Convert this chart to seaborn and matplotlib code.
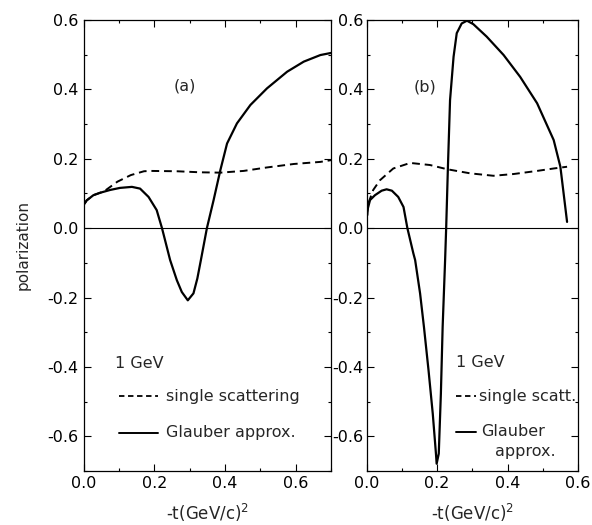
import numpy as np
import pandas as pd
import matplotlib
matplotlib.use("Agg")
import matplotlib.pyplot as plt
from matplotlib.ticker import MultipleLocator
import seaborn as sns

# ---- data ----
# panel (a)
a_glauber_t = [0.0, 0.0, 0.009, 0.028, 0.047, 0.075, 0.103, 0.137, 0.16, 0.184, 0.207,
               0.222, 0.245, 0.264, 0.278, 0.295, 0.311, 0.322, 0.332, 0.349, 0.368,
               0.387, 0.406, 0.434, 0.472, 0.519, 0.576, 0.623, 0.670, 0.70]
a_glauber_p = [0.0, 0.066, 0.08, 0.095, 0.102, 0.11, 0.116, 0.119, 0.114, 0.09, 0.052,
               0.0, -0.092, -0.15, -0.184, -0.208, -0.188, -0.145, -0.092, 0.0, 0.081,
               0.167, 0.244, 0.302, 0.355, 0.403, 0.451, 0.48, 0.499, 0.505]
a_single_t = [0.0, 0.0, 0.009, 0.028, 0.047, 0.058, 0.096, 0.134, 0.171, 0.188, 0.264,
              0.33, 0.387, 0.453, 0.519, 0.595, 0.67, 0.70]
a_single_p = [0.0, 0.066, 0.08, 0.095, 0.102, 0.106, 0.134, 0.153, 0.164, 0.165, 0.164,
              0.161, 0.16, 0.165, 0.175, 0.185, 0.191, 0.196]

# panel (b)
b_glauber_t = [0.0, 0.0, 0.01, 0.024, 0.043, 0.057, 0.072, 0.09, 0.105, 0.116, 0.133,
               0.138, 0.152, 0.163, 0.176, 0.188, 0.197, 0.199, 0.205, 0.211, 0.216,
               0.223, 0.226, 0.231, 0.237, 0.247, 0.256, 0.27, 0.285, 0.303, 0.341,
               0.389, 0.436, 0.484, 0.531, 0.55, 0.569]
b_glauber_p = [0.0, 0.042, 0.081, 0.095, 0.108, 0.112, 0.108, 0.09, 0.061, 0.0, -0.073,
               -0.092, -0.188, -0.285, -0.41, -0.535, -0.65, -0.679, -0.65, -0.477, -0.285,
               -0.092, 0.0, 0.177, 0.369, 0.494, 0.562, 0.59, 0.598, 0.588, 0.552,
               0.499, 0.436, 0.36, 0.254, 0.177, 0.018]
b_single_t = [0.0, 0.005, 0.019, 0.038, 0.076, 0.124, 0.18, 0.228, 0.294, 0.36, 0.417,
              0.484, 0.531, 0.569]
b_single_p = [0.0, 0.071, 0.11, 0.138, 0.172, 0.188, 0.182, 0.17, 0.158, 0.151, 0.156,
              0.165, 0.172, 0.177]

y_ticks = [-0.6, -0.4, -0.2, 0.0, 0.2, 0.4, 0.6]
x_ticks_a = [0.0, 0.2, 0.4, 0.6]
x_ticks_b = [0.0, 0.2, 0.4, 0.6]

sns.set_theme(style="ticks")
plt.rcParams["font.family"] = ["DejaVu Sans"]
plt.rcParams["axes.unicode_minus"] = False

fig = plt.figure(figsize=(5.92, 5.25), dpi=100)
ax_a = fig.add_axes([83.5 / 592, 1 - 471 / 525, (331 - 83.5) / 592, (471 - 20) / 525])
ax_b = fig.add_axes([366.5 / 592, 1 - 471 / 525, (578 - 366.5) / 592, (471 - 20) / 525])

def draw(ax, gt, gp, st, sp, xmax, xt):
    dfg = pd.DataFrame({"t": gt, "p": gp})
    dfs = pd.DataFrame({"t": st, "p": sp})
    sns.lineplot(data=dfg, x="t", y="p", ax=ax, color="black", lw=1.6, sort=False,
                 estimator=None)
    sns.lineplot(data=dfs, x="t", y="p", ax=ax, color="black", lw=1.4, sort=False,
                 estimator=None, dashes=False, linestyle=(0, (4, 2.5)))
    ax.axhline(0, color="black", lw=0.8)
    ax.set_xlim(0, xmax)
    ax.set_ylim(-0.7, 0.6)
    ax.set_xticks(xt)
    ax.set_xticklabels([f"{v:.1f}" for v in xt])
    ax.set_yticks(y_ticks)
    ax.set_yticklabels([f"{v:.1f}" for v in y_ticks])
    ax.xaxis.set_minor_locator(MultipleLocator(0.1))
    ax.yaxis.set_minor_locator(MultipleLocator(0.1))
    ax.tick_params(which="both", direction="in", top=True, right=True,
                   color="black", width=0.8, labelsize=11.5, labelcolor="black")
    ax.tick_params(which="major", length=5)
    ax.tick_params(which="minor", length=2.5)
    for s in ax.spines.values():
        s.set_color("black")
        s.set_linewidth(0.9)
    ax.set_xlabel("-t(GeV/c)$^2$", fontsize=12, labelpad=8)
    ax.set_ylabel("")

draw(ax_a, a_glauber_t, a_glauber_p, a_single_t, a_single_p, 0.70, x_ticks_a)
draw(ax_b, b_glauber_t, b_glauber_p, b_single_t, b_single_p, 0.60, x_ticks_b)
ax_a.tick_params(axis="y", pad=4)
ax_b.tick_params(axis="y", pad=2)
ax_a.set_ylabel("polarization", fontsize=11, labelpad=12)

fs = 11.5
# panel (a) annotations
ax_a.text(0.286, 0.41, "(a)", fontsize=fs, ha="center", va="center")
ax_a.text(0.088, -0.39, "1 GeV", fontsize=fs, ha="left", va="center")
ax_a.plot([0.10, 0.21], [-0.485, -0.485], color="black", lw=1.3, linestyle=(0, (3, 2)))
ax_a.text(0.233, -0.485, "single scattering", fontsize=fs, ha="left", va="center")
ax_a.plot([0.10, 0.21], [-0.59, -0.59], color="black", lw=1.4)
ax_a.text(0.233, -0.59, "Glauber approx.", fontsize=fs, ha="left", va="center")

# panel (b) annotations
ax_b.text(0.165, 0.407, "(b)", fontsize=fs, ha="center", va="center")
ax_b.text(0.255, -0.386, "1 GeV", fontsize=fs, ha="left", va="center")
ax_b.plot([0.255, 0.31], [-0.485, -0.485], color="black", lw=1.3, linestyle=(0, (3, 2)))
ax_b.text(0.32, -0.485, "single scatt.", fontsize=fs, ha="left", va="center")
ax_b.plot([0.255, 0.31], [-0.587, -0.587], color="black", lw=1.4)
ax_b.text(0.326, -0.587, "Glauber", fontsize=fs, ha="left", va="center")
ax_b.text(0.364, -0.645, "approx.", fontsize=fs, ha="left", va="center")

fig.savefig("out.png", dpi=100, facecolor="white")
